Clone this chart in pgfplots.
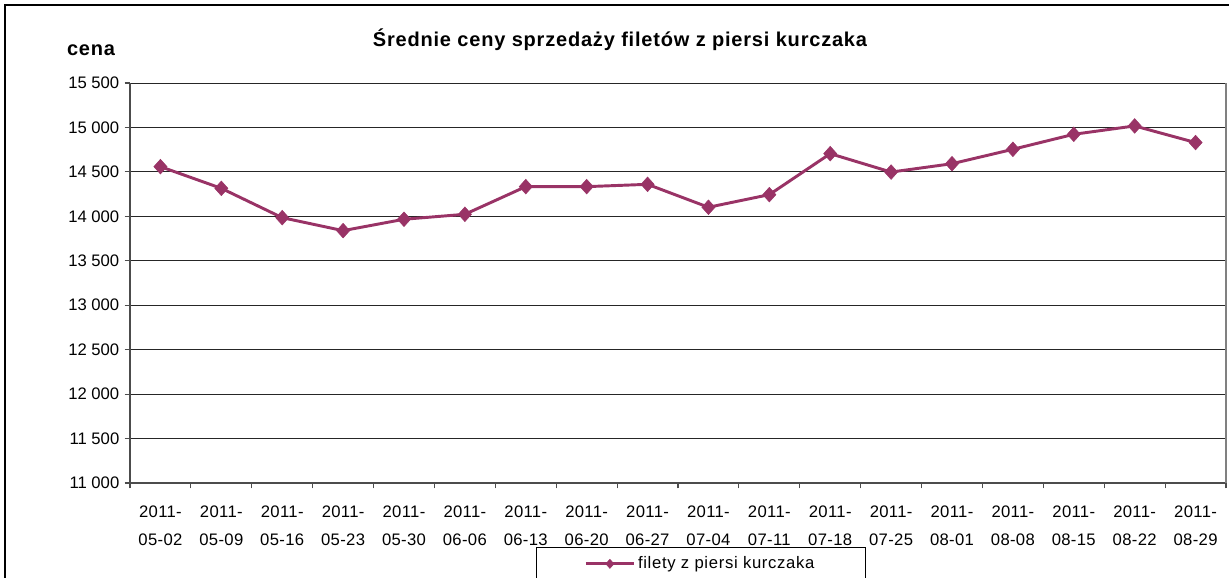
\documentclass[border=0pt]{standalone}
\usepackage{pgfplots}
\pgfplotsset{compat=1.18}
\usepackage{fontspec}
\setmainfont{Liberation Sans}
\definecolor{plum}{HTML}{993366}
\begin{document}
\begin{tikzpicture}
\useasboundingbox (0,0) rectangle (921.75pt,433.5pt);
\draw[black, line width=0.8pt] (3.75pt,429.75pt) rectangle (940pt,-20pt);
\begin{axis}[
  at={(97.5pt,71.25pt)}, anchor=south west,
  scale only axis, width=822pt, height=300pt,
  xmin=0, xmax=18, ymin=11000, ymax=15500,
  xtick={0,...,18}, xticklabels={},
  extra x ticks={0.5,1.5,...,17.5},
  extra x tick labels={{2011-\\05-02},{2011-\\05-09},{2011-\\05-16},{2011-\\05-23},{2011-\\05-30},{2011-\\06-06},{2011-\\06-13},{2011-\\06-20},{2011-\\06-27},{2011-\\07-04},{2011-\\07-11},{2011-\\07-18},{2011-\\07-25},{2011-\\08-01},{2011-\\08-08},{2011-\\08-15},{2011-\\08-22},{2011-\\08-29}},
  extra x tick style={major tick length=0pt, grid=none, xticklabel style={align=center, font=\fontsize{12.5}{21}\selectfont\addfontfeature{LetterSpace=2}, yshift=-13.5pt}},
  ytick={11000,11500,...,15500},
  scaled y ticks=false,
  ymajorgrids, grid style={black!85, line width=0.7pt},
  tick align=outside, major tick length=4pt,
  tick style={gray!60!black, line width=0.8pt},
  axis line style={gray!60!black, line width=0.8pt},
  yticklabel style={font=\fontsize{12.5}{14}\selectfont, xshift=-0.5pt},
  /pgf/number format/.cd, fixed, 1000 sep={\ }, assume math mode=true,
  /pgfplots/.cd,
  axis y line*=left, axis x line*=bottom,
  clip=false,
  legend style={at={(0.3704,-0.16)}, anchor=north west, draw=black, line width=0.7pt,
    font=\fontsize{12.5}{14}\selectfont\addfontfeature{LetterSpace=4}, inner xsep=36pt, inner ysep=5pt},
  legend cell align=left,
  legend image code/.code={\draw[#1, mark size=3.4pt, mark repeat=2, mark phase=2] plot coordinates {(0pt,0pt) (18pt,0pt) (36pt,0pt)};},
]
\addplot[plum, line width=2.2pt, mark=diamond*, mark size=5.5pt,
  mark options={solid, fill=plum, draw=plum, line width=0.4pt, xscale=1.2}]
coordinates {
(0.5,14559) (1.5,14315) (2.5,13985) (3.5,13839) (4.5,13967) (5.5,14023)
(6.5,14334) (7.5,14334) (8.5,14360) (9.5,14102) (10.5,14244) (11.5,14705)
(12.5,14498) (13.5,14592) (14.5,14754) (15.5,14923) (16.5,15017) (17.5,14830)
};
\addlegendentry{filety z piersi kurczaka}
\draw[gray, line width=0.8pt] (axis cs:18,11000) -- (axis cs:18,15500);
\end{axis}
\node[font=\bfseries\fontsize{15}{17}\selectfont\addfontfeature{LetterSpace=4}] at (465pt,403.5pt) {Średnie ceny sprzedaży filetów z piersi kurczaka};
\node[font=\bfseries\fontsize{15}{17}\selectfont\addfontfeature{LetterSpace=4}] at (68.25pt,396pt) {cena};
\end{tikzpicture}
\end{document}
